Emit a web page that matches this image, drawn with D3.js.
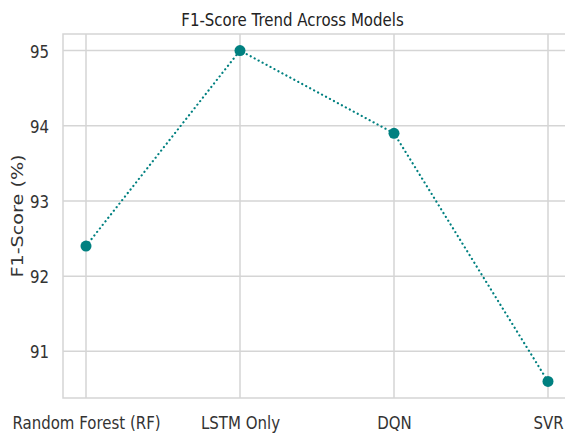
<!DOCTYPE html>
<html><head><meta charset="utf-8">
<script src="https://cdn.jsdelivr.net/npm/d3@7"></script>
<style>body{margin:0;background:#fff}svg{display:block}</style>
</head><body>
<svg id="c" width="565" height="434"></svg>
<script>
const models = ["Random Forest (RF)", "LSTM Only", "DQN", "SVR"];
const f1Scores = [92.4, 95.0, 93.9, 90.6];
const yTicks = [91, 92, 93, 94, 95];

const W = 565, H = 434;
const m = {left: 63, top: 34, right: -6, bottom: 36};
const svg = d3.select("#c");
const iw = W - m.left - m.right, ih = H - m.top - m.bottom;

const x = d3.scalePoint().domain(models).range([86 - m.left, 548 - m.left]);
const y = d3.scaleLinear().domain([90.38, 95.22]).range([ih, 0]);

const g = svg.append("g").attr("transform", `translate(${m.left},${m.top})`);
const grid = "#d5d5d5";
const font = "DejaVu Sans, sans-serif";
const sy = 1.2;

// grid
g.selectAll(".hg").data(yTicks).join("line")
  .attr("x1", 0).attr("x2", iw).attr("y1", d => y(d)).attr("y2", d => y(d))
  .attr("stroke", grid).attr("stroke-width", 1.5);
g.selectAll(".vg").data(models).join("line")
  .attr("x1", d => x(d)).attr("x2", d => x(d)).attr("y1", 0).attr("y2", ih)
  .attr("stroke", grid).attr("stroke-width", 1.5);
// frame
g.append("rect").attr("width", iw).attr("height", ih).attr("fill", "none")
  .attr("stroke", grid).attr("stroke-width", 1.5);

// axes via d3
const yAxis = g.append("g").call(d3.axisLeft(y).tickValues(yTicks).tickSize(0).tickPadding(14).tickFormat(d3.format("d")));
yAxis.select(".domain").remove();
yAxis.selectAll("text").attr("font-family", font).attr("font-size", 15).attr("fill", "#333")
  .attr("dy", "0.365em").attr("transform", `scale(1,${sy})`);

const xAxis = g.append("g").attr("transform", `translate(0,${ih})`)
  .call(d3.axisBottom(x).tickSize(0));
xAxis.select(".domain").remove();
xAxis.selectAll("text").attr("font-family", font).attr("font-size", 15).attr("fill", "#333")
  .attr("y", 0).attr("dy", 0).attr("transform", `translate(0,${429 - m.top - ih}) scale(1,${sy})`);

// line
const line = d3.line().x((d, i) => x(models[i])).y(d => y(d));
g.append("path").datum(f1Scores).attr("d", line).attr("fill", "none")
  .attr("stroke", "#008080").attr("stroke-width", 2.2)
  .attr("stroke-dasharray", "0.1,4.4").attr("stroke-linecap", "round");
g.selectAll(".pt").data(f1Scores).join("circle")
  .attr("cx", (d, i) => x(models[i])).attr("cy", d => y(d)).attr("r", 5.5)
  .attr("fill", "#008080");

// title
svg.append("text").attr("transform", `translate(292.5,26) scale(1,${sy})`).attr("text-anchor", "middle")
  .attr("font-family", font).attr("font-size", 15).attr("fill", "#222")
  .text("F1-Score Trend Across Models");
// y label
svg.append("text").attr("transform", `translate(23,216) rotate(-90) scale(${sy},1)`)
  .attr("text-anchor", "middle").attr("font-family", font).attr("font-size", 16).attr("fill", "#333")
  .text("F1-Score (%)");
</script>
</body></html>
